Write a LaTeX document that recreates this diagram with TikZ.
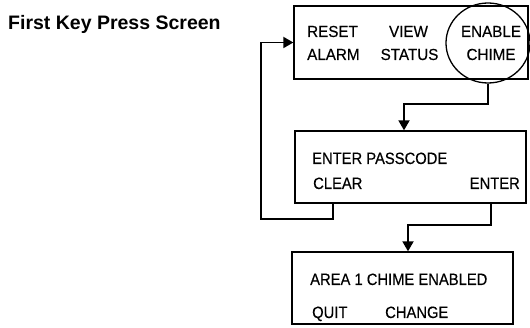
\documentclass[tikz,border=0pt]{standalone}
\usepackage{fontspec}
\usetikzlibrary{shapes.geometric,arrows.meta}
\setmainfont{Liberation Sans}
\newfontfamily\boxfont[FakeStretch=0.9,FakeBold=0.4]{Liberation Sans}
\newfontfamily\topfont[FakeStretch=0.95,FakeBold=0.4]{Liberation Sans}
\begin{document}
\begin{tikzpicture}[x=1pt,y=-1pt,
  screen/.style={draw,line width=1.3pt,rectangle,inner sep=0pt},
  conn/.style={line width=1.8pt,-{Triangle[length=10pt,width=11pt]}},
  lbl/.style={anchor=base west,inner sep=0pt,font=\boxfont\fontsize{16.4}{16.4}\selectfont},
  tlbl/.style={anchor=base,inner sep=0pt,font=\topfont\fontsize{16}{16}\selectfont}]
\useasboundingbox (0,0) rectangle (530,328);
% title
\node[anchor=base west,inner sep=0pt,font=\bfseries\fontsize{19.5}{19.5}\selectfont] (title) at (8,30) {First Key Press Screen};
% screens
\node[screen,minimum width=234pt,minimum height=73pt] (box1) at (411,42.5) {};
\node[screen,minimum width=231pt,minimum height=72pt] (box2) at (410.5,167) {};
\node[screen,minimum width=221pt,minimum height=72pt] (box3) at (402.5,288) {};
\node[draw,line width=1.3pt,ellipse,minimum width=84pt,minimum height=80pt,inner sep=0pt] (chime) at (488,43) {};
% box 1 text
\node[tlbl,anchor=base west] (reset) at (307,37) {RESET};
\node[tlbl,anchor=base west] (alarm) at (307,60) {ALARM};
\node[tlbl] (view) at (408.5,37) {VIEW};
\node[tlbl] (status) at (409.5,60) {STATUS};
\node[tlbl] (enable) at (491,37) {ENABLE};
\node[tlbl] (chimet) at (491,60) {CHIME};
% box 2 text
\node[lbl] (pass) at (312,164) {ENTER PASSCODE};
\node[lbl] (clear) at (313,189) {CLEAR};
\node[lbl,anchor=base east] (enter) at (520,189) {ENTER};
% box 3 text
\node[lbl] (area) at (310,285) {AREA 1 CHIME ENABLED};
\node[lbl] (quit) at (312,318) {QUIT};
\node[lbl] (change) at (385,318) {CHANGE};
% connectors
\coordinate (k1) at (404,104);
\draw[conn] (chime.south) |- (k1) -- (k1 |- box2.north);
\coordinate (clrstart) at (333,203);
\coordinate (k2) at (261,219);
\draw[conn] (clrstart) |- (k2) |- (box1.west);
\coordinate (entstart) at (491,203);
\coordinate (k3) at (408,225);
\draw[conn] (entstart) |- (k3) -- (k3 |- box3.north);
\end{tikzpicture}
\end{document}
